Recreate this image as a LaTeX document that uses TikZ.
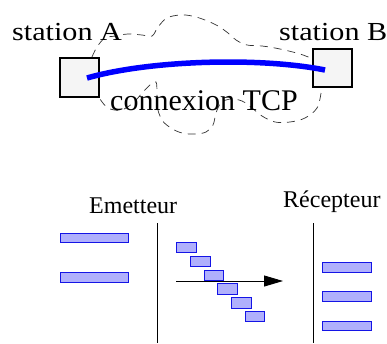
\documentclass[tikz,border=0pt]{standalone}
\usepackage{fontspec}
\setmainfont{Liberation Serif}
\usetikzlibrary{arrows.meta}
\definecolor{barfill}{RGB}{176,176,252}
\definecolor{boxfill}{RGB}{245,245,245}
\tikzset{
  station/.style={draw=black, line width=1.4pt, fill=boxfill},
  bar/.style={draw={rgb,255:red,20;green,20;blue,230}, line width=0.9pt, fill=barfill},
  cloud/.style={draw=black!80, line width=0.7pt, dash pattern=on 8pt off 6pt},
  lbl/.style={inner sep=0pt, anchor=base west},
}
\begin{document}
\begin{tikzpicture}[x=1pt,y=-1pt]
\useasboundingbox (0,0) rectangle (387,343);
% stations
\draw[station] (60,58) rectangle (99,97);
\draw[station] (313,49) rectangle (352,87);
\coordinate (pa) at (87,78);
\coordinate (pb) at (325,70);
% dashed freehand cloud
\draw[cloud] plot[smooth, tension=0.6] coordinates {(92,57) (97,47) (105,38) (116,36) (128,34) (142,35) (152,36) (158,27) (167,18) (180,15) (192,16) (205,20) (218,26) (228,33) (236,40) (247,45) (262,46) (280,49) (300,54) (313,59)};
\draw[cloud] plot[smooth, tension=0.6] coordinates {(321,93) (317,108) (305,118) (290,122) (275,122) (262,116) (252,108) (242,101) (230,99) (221,103) (216,113) (213,125) (206,132) (195,134) (182,133) (171,128) (162,120) (157,106) (157,92) (156,82) (151,84) (143,92) (133,103) (121,110) (108,108) (100,99)};
% TCP link
\draw[blue, line width=5.5pt] (pa) .. controls (150,60) and (260,57) .. (pb);
% labels
\node[lbl, font=\fontsize{26}{30}\selectfont] (la) at (12,40) {\scalebox{1.16}[1]{station A}};
\node[lbl, font=\fontsize{26}{30}\selectfont] (lb) at (279,40) {\scalebox{1.16}[1]{station B}};
\node[lbl, font=\fontsize{30}{34}\selectfont] (lc) at (110,110) {connexion TCP};
\node[lbl, font=\fontsize{24}{28}\selectfont] (le) at (89,213) {Emetteur};
\node[lbl, font=\fontsize{24}{28}\selectfont] (lr) at (283,207) {Récepteur};
% time lines
\coordinate (e0) at (157,223); \coordinate (e1) at (157,343);
\coordinate (r0) at (313,223); \coordinate (r1) at (313,343);
\draw[line width=0.9pt] (e0) -- (e1);
\draw[line width=0.9pt] (r0) -- (r1);
% emitter buffers
\draw[bar] (60,233) rectangle (128,242);
\draw[bar] (60,272) rectangle (128,282);
% segments in flight
\draw[bar] (176,242) rectangle (196,252);
\draw[bar] (190,256) rectangle (210,266);
\draw[bar] (204,270) rectangle (223,280);
\draw[bar] (217,283) rectangle (237,294);
\draw[bar] (231,297) rectangle (251,308);
\draw[bar] (245,311) rectangle (264,321);
% flow arrow
\coordinate (f0) at (176,281); \coordinate (f1) at (283,281);
\draw[line width=0.9pt, -{Triangle[length=19pt,width=11pt]}] (f0) -- (f1);
% receiver buffers
\draw[bar] (322,262) rectangle (371,272);
\draw[bar] (322,291) rectangle (371,301);
\draw[bar] (322,321) rectangle (371,330);
\end{tikzpicture}
\end{document}
